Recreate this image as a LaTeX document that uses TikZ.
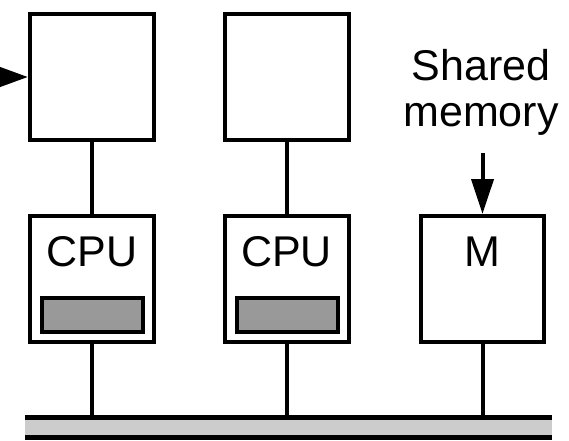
\documentclass[tikz,border=0pt]{standalone}
\usepackage{fontspec}
\setmainfont{Liberation Sans}
\usetikzlibrary{arrows.meta}
\definecolor{cachegray}{HTML}{999999}
\definecolor{busgray}{HTML}{CCCCCC}
\tikzset{
  unit/.style={draw, line width=4pt, minimum width=124pt, minimum height=126pt, inner sep=0pt},
  cache/.style={draw, fill=cachegray, line width=4pt, minimum width=101pt, minimum height=34pt, inner sep=0pt},
  wire/.style={line width=4pt},
  lbl/.style={font=\fontsize{43}{46}\selectfont, inner sep=0pt}
}

\begin{document}
\begin{tikzpicture}[x=1pt,y=-1pt]
\useasboundingbox (0,0) rectangle (569,440);
%%%%%%%%%%%%%%%%%%Draw The Bus%%%%%%%%%%%%%%%
\node[fill=busgray, minimum width=527pt, minimum height=19pt, inner sep=0pt] (bus) at (288.5,427.5) {};
\draw[line width=5pt] (bus.north west) -- (bus.north east);
\draw[line width=5pt] (bus.south west) -- (bus.south east);

%%%%%%%%%%%%%%Draw The Private Memories%%%%%%%%%%%%%%
\node[unit] (memA) at (92,77) {};
\node[unit] (memB) at (286.5,77) {};

%%%%%%%%%%%%%%Draw The CPUs With Caches%%%%%%%%%%%%%%
\node[unit] (cpuA) at (92,279) {};
\node[lbl] (cpuAtxt) at (92,252) {CPU};
\node[cache] (cacheA) at (92.5,315) {};

\node[unit] (cpuB) at (286.5,279) {};
\node[lbl] (cpuBtxt) at (286.5,252) {CPU};
\node[cache] (cacheB) at (287,315) {};

%%%%%%%%%%%%%%Draw The Shared Memory%%%%%%%%%%%%%%
\node[unit, minimum width=123pt] (shmem) at (482.5,279) {};
\node[lbl] (shmemtxt) at (482.5,252) {M};
\node[lbl, align=center] (shlabel) at (481,92) {Shared\\memory};

%%%%%%%%%%%%%%Draw The Wires%%%%%%%%%%%%%%
\draw[wire] (memA.south) -- (cpuA.north);
\draw[wire] (memB.south) -- (cpuB.north);
\draw[wire] (cpuA.south) -- (cpuA.south |- bus.north);
\draw[wire] (cpuB.south) -- (cpuB.south |- bus.north);
\draw[wire] (shmem.south) -- (shmem.south |- bus.north);

%%%%%%%%%%%%%%Draw The Arrows%%%%%%%%%%%%%%
\coordinate (shtail) at (482.5,153);
\draw[wire, -{Triangle[length=35pt, width=22pt]}] (shtail) -- (shmem.north);
\coordinate (lefttail) at (-40,77);
\draw[wire, -{Triangle[length=28pt, width=19pt]}] (lefttail) -- (memA.west);
\end{tikzpicture}
\end{document}
